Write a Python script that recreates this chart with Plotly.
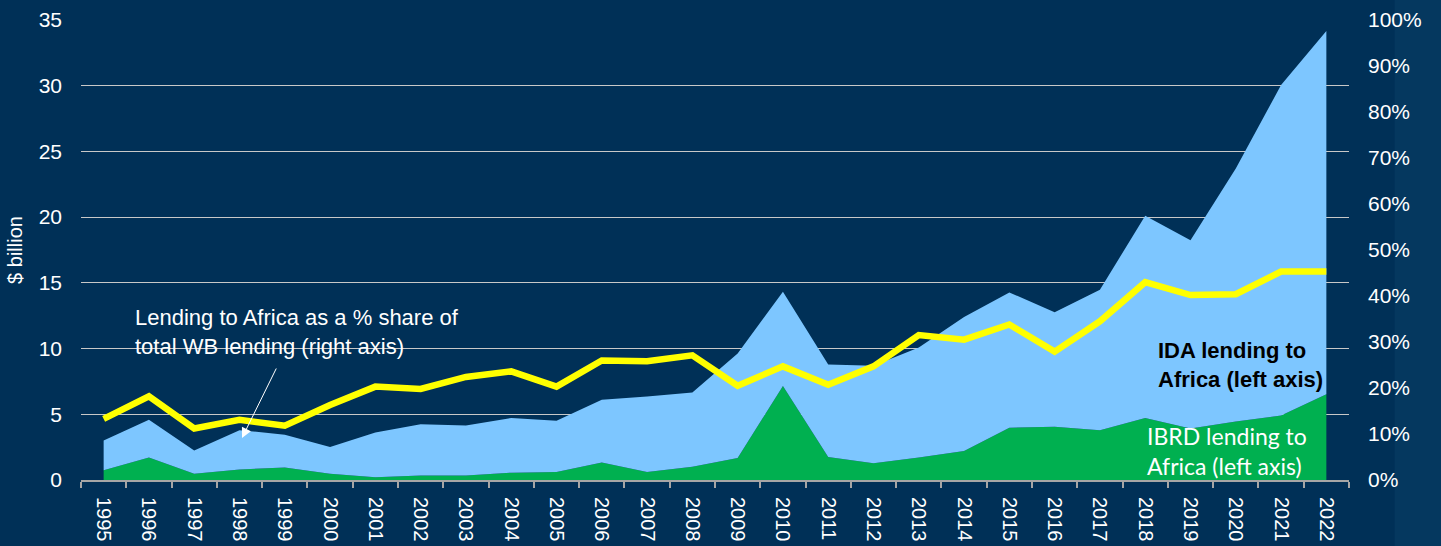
import plotly.graph_objects as go

years = [str(y) for y in range(1995, 2023)]

# IBRD lending to Africa, $ billion (green, bottom)
ibrd = [0.74, 1.72, 0.48, 0.80, 0.95, 0.48, 0.21, 0.34, 0.34, 0.56,
        0.61, 1.33, 0.61, 1.00, 1.67, 7.16, 1.75, 1.27, 1.72, 2.20,
        3.98, 4.06, 3.79, 4.72, 3.92, 4.45, 4.91, 6.52]

# IDA lending to Africa, $ billion (light blue, stacked on IBRD)
ida = [2.26, 2.87, 1.77, 2.99, 2.50, 2.04, 3.40, 3.90, 3.80, 4.16,
       3.90, 4.77, 5.75, 5.66, 7.96, 7.16, 7.03, 7.43, 8.36, 10.21,
       10.29, 8.70, 10.69, 15.38, 14.32, 19.25, 25.14, 27.64]

# Lending to Africa as % share of total WB lending (right axis)
share_pct = [13.3, 18.2, 11.2, 13.1, 11.8, 16.3, 20.3, 19.8, 22.4, 23.6,
             20.3, 26.0, 25.8, 27.1, 20.5, 24.7, 20.7, 24.7, 31.5, 30.5,
             33.8, 27.9, 34.5, 43.0, 40.2, 40.4, 45.3, 45.3]

left_ticks = [0, 5, 10, 15, 20, 25, 30, 35]
right_ticks = list(range(0, 101, 10))
right_labels = [f"{v}%" for v in right_ticks]

BG = "#003057"
FONT = "Liberation Sans, Arial, sans-serif"

fig = go.Figure()
fig.add_trace(go.Scatter(
    x=years, y=ibrd, name="IBRD lending to Africa", stackgroup="one",
    mode="lines", line=dict(width=0, color="#00B050"), fillcolor="#00B050",
))
fig.add_trace(go.Scatter(
    x=years, y=ida, name="IDA lending to Africa", stackgroup="one",
    mode="lines", line=dict(width=0, color="#7DC6FF"), fillcolor="#7DC6FF",
))
fig.add_trace(go.Scatter(
    x=years, y=share_pct, name="Share", yaxis="y2", mode="lines",
    line=dict(width=6.5, color="#FFFF00"),
))

fig.update_layout(
    width=1441, height=546,
    margin=dict(l=81, r=92, t=20, b=66),
    paper_bgcolor=BG, plot_bgcolor=BG,
    showlegend=False,
    font=dict(family=FONT, color="white", size=20),
    xaxis=dict(
        type="category", tickson="boundaries", ticks="outside", ticklen=6,
        tickcolor="#a6a6a6", tickwidth=2, tickangle=90,
        showline=True, linecolor="#a6a6a6", linewidth=2,
        showgrid=False, tickfont=dict(size=20, color="white"),
        ticklabelstandoff=11, range=[-0.5, 27.5], automargin=False,
    ),
    yaxis=dict(
        range=[0, 35], tickvals=left_ticks, showgrid=True,
        gridcolor="#c8c8c8", gridwidth=1, zeroline=False,
        tickfont=dict(size=21, color="white"), ticklabelstandoff=18,
        title=dict(text="$ billion", font=dict(size=20, color="white"), standoff=10),
        automargin=False,
    ),
    yaxis2=dict(
        range=[0, 100], tickvals=right_ticks, ticktext=right_labels,
        overlaying="y", side="right", showgrid=False, zeroline=False,
        tickfont=dict(size=21, color="white"), ticklabelstandoff=18,
        automargin=False,
    ),
    shapes=[dict(type="rect", xref="paper", yref="paper", x0=1.036, x1=1.2,
                 y0=-0.3, y1=1.1, fillcolor="#05385f", line=dict(width=0),
                 layer="below")],
)

fig.add_annotation(
    xref="paper", yref="paper", x=0.041, y=0.322, xanchor="left", yanchor="middle",
    text="Lending to Africa as a % share of<br>total WB lending (right axis)",
    showarrow=False, align="left", font=dict(family=FONT, size=22, color="white"),
)
fig.add_annotation(
    xref="paper", yref="paper", x=(242 - 81) / 1268, y=(480 - 438) / 460,
    ax=35, ay=-71, axref="pixel", ayref="pixel", text="", showarrow=True,
    arrowhead=2, arrowsize=2, arrowwidth=1, arrowcolor="white",
)
fig.add_annotation(
    xref="paper", yref="paper", x=(1156 - 81) / 1268, y=(480 - 365) / 460,
    xanchor="left", yanchor="middle",
    text="<b>IDA lending to<br>Africa (left axis)</b>",
    showarrow=False, align="left", font=dict(family=FONT, size=22, color="black"),
)
fig.add_annotation(
    xref="paper", yref="paper", x=(1145 - 81) / 1268, y=(480 - 451) / 460,
    xanchor="left", yanchor="middle",
    text="IBRD lending to<br>Africa (left axis)",
    showarrow=False, align="left", font=dict(family="Lato, sans-serif", size=23, color="white"),
)

fig.write_html(
    "out.html",
    config={"displayModeBar": False},
    post_script="document.body.style.margin='0';document.body.style.overflow='hidden';",
)
